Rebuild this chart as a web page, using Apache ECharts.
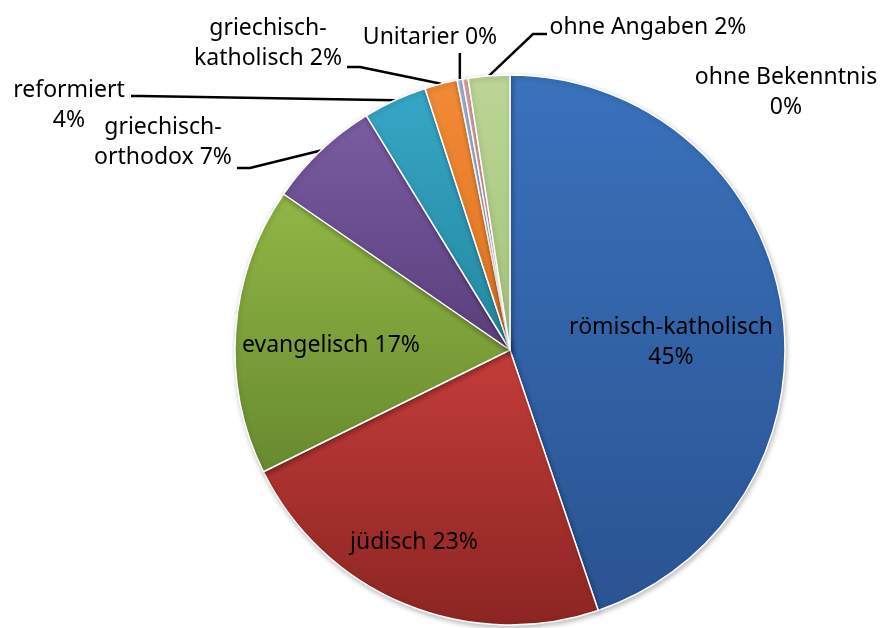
<!DOCTYPE html>
<html>
<head>
<meta charset="utf-8">
<script src="https://cdn.jsdelivr.net/npm/echarts@6/dist/echarts.min.js"></script>
<style>
html, body { margin: 0; padding: 0; background: #fff; }
#chart { width: 887px; height: 628px; }
</style>
</head>
<body>
<div id="chart"></div>
<script>
// Konfessionen und Anteile (Prozent, aus der Grafik geschaetzt)
var names = ['römisch-katholisch', 'jüdisch', 'evangelisch', 'griechisch-orthodox', 'reformiert',
             'griechisch-katholisch', 'Unitarier', 'ohne Bekenntnis', 'ohne Angaben'];
var values = [44.8, 22.9, 16.9, 6.65, 3.75, 1.92, 0.32, 0.32, 2.44];

// how the label text wraps: 'nl' = percent on new line, 'hy' = break after hyphen, '' = one line
var wrap = ['nl', '', '', 'hy', 'nl', 'hy', '', 'nl', ''];

var topColors = ['#3a72bc', '#c33d3a', '#92b746', '#7a5ca2', '#37a6c6', '#f28b35', '#aabfe0', '#e9abaa', '#bcd597'];
var bottomColors = ['#2a5391', '#8c2522', '#688a2f', '#5a3e7b', '#23889f', '#de7220', '#93acd4', '#dc9290', '#a5c37a'];

// label centres and the bends of the leader lines (pixels)
var labelPos = [[671, 342], [414, 542], [331, 345], [163, 142], [69, 105], [268, 43], [430, 37], [786, 92], [648, 27]];
var lineBend = [null, null, null, [[250, 168], [237, 168]], [[140, 96], [131, 96]], [[360, 67], [347, 67]],
                'up', null, [[533, 34], [547, 34]]];
var inside = [true, true, true, false, false, false, false, false, false];

var total = values.reduce(function (a, b) { return a + b; }, 0);

var data = [];
for (var i = 0; i < names.length; i++) {
    data.push({
        name: names[i],
        value: values[i],
        itemStyle: {
            color: {
                type: 'linear', x: 0, y: 0, x2: 0, y2: 1,
                colorStops: [{ offset: 0, color: topColors[i] }, { offset: 1, color: bottomColors[i] }]
            }
        },
        label: { position: inside[i] ? 'inside' : 'outside' },
        labelLine: { show: !inside[i] && lineBend[i] != null }
    });
}

var chart = echarts.init(document.getElementById('chart'));
chart.setOption({
    animation: false,
    backgroundColor: '#fff',
    series: [{
        type: 'pie',
        center: [510, 350],
        radius: 275,
        startAngle: 90,
        clockwise: true,
        avoidLabelOverlap: false,
        minShowLabelAngle: 0,
        data: data,
        itemStyle: {
            borderColor: '#fff',
            borderWidth: 1.5,
            shadowBlur: 5,
            shadowColor: 'rgba(0,0,0,0.25)',
            shadowOffsetX: 1,
            shadowOffsetY: 2
        },
        label: {
            color: '#000',
            fontFamily: 'Noto Sans',
            fontSize: 23,
            lineHeight: 30,
            align: 'center',
            formatter: function (p) {
                var pct = Math.round(p.value / total * 100) + '%';
                var w = wrap[p.dataIndex];
                if (w === 'nl') return p.name + '\n' + pct;
                if (w === 'hy') {
                    var k = p.name.indexOf('-');
                    return p.name.slice(0, k + 1) + '\n' + p.name.slice(k + 1) + ' ' + pct;
                }
                return p.name + ' ' + pct;
            }
        },
        labelLine: {
            lineStyle: { color: '#000', width: 2.5 },
            length: 10,
            length2: 10
        },
        labelLayout: function (params) {
            var i = params.dataIndex;
            var res = { x: labelPos[i][0], y: labelPos[i][1], align: 'center', verticalAlign: 'middle' };
            var b = lineBend[i];
            var pts = params.labelLinePoints;
            if (b && pts) {
                var start = pts[0];
                if (b === 'up') {
                    res.labelLinePoints = [start, [start[0], 53], [start[0], 53]];
                } else {
                    res.labelLinePoints = [start, b[0], b[1]];
                }
            }
            return res;
        }
    }]
});
</script>
</body>
</html>
